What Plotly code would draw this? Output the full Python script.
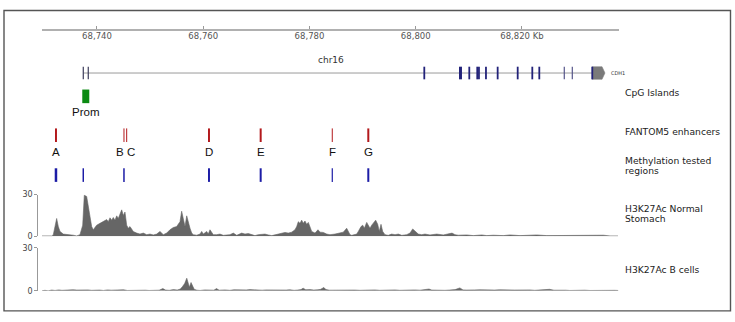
import plotly.graph_objects as go

W, H = 735, 322

# ---------------- data ----------------
ruler_range_kb = [68729.65, 68838.26]
ruler_ticks_kb = [68740, 68760, 68780, 68800, 68820]
ruler_tick_text = ["68,740", "68,760", "68,780", "68,800", "68,820 Kb"]
chrom = "chr16"

gene_name = "CDH1"
gene_start_kb = 68737.42
gene_end_kb = 68835.62
utr_start_kb = 68833.23
exons_left_kb = [68737.42, 68738.36]
exons_main_kb = [68801.61, 68808.42, 68810.08, 68811.58, 68811.90, 68813.22,
                 68815.42, 68819.19, 68821.94, 68823.26, 68833.23]
exons_light_kb = [68827.96, 68829.47]

cpg_start_kb = [68737.23]
cpg_end_kb = [68738.55]
cpg_labels = ["Prom"]

enh_names = ["A", "B", "C", "D", "E", "F", "G"]
enh_pos_kb = [68732.28, 68745.08, 68745.59, 68761.08, 68770.81, 68784.29, 68791.07]
enh_width_px = [2, 1, 1, 2, 2, 1, 2]

meth_pos_kb = [68732.28, 68737.42, 68745.08, 68761.08, 68770.81, 68784.29, 68791.07]
meth_width_px = [2.5, 1.5, 1.5, 2, 2, 1.2, 2]

stomach_kb = [68729.59, 68731.47, 68731.77, 68732.09, 68732.41, 68732.72, 68733.04, 68733.66,
              68734.30, 68734.92, 68735.54, 68736.18, 68736.80, 68737.31, 68737.61, 68738.06,
              68738.36, 68738.68, 68739.00, 68739.30, 68739.62, 68739.94, 68740.56, 68741.19,
              68741.83, 68742.13, 68742.45, 68742.77, 68743.07, 68743.39, 68743.71, 68744.01,
              68744.33, 68744.65, 68744.95, 68745.27, 68745.59, 68745.89, 68746.21, 68746.53,
              68746.83, 68747.47, 68748.09, 68748.72, 68749.36, 68749.98, 68750.60, 68751.24,
              68751.86, 68752.48, 68753.12, 68753.74, 68754.36, 68755.00, 68755.62, 68755.94,
              68756.25, 68756.57, 68756.89, 68757.19, 68757.51, 68757.83, 68758.13, 68758.77,
              68759.39, 68759.71, 68760.01, 68760.65, 68760.95, 68761.27, 68761.59, 68761.89,
              68762.53, 68763.15, 68763.78, 68764.42, 68765.04, 68765.66, 68766.30, 68767.24,
              68767.86, 68768.48, 68769.12, 68769.74, 68770.36, 68771.00, 68771.62, 68772.25,
              68772.89, 68774.13, 68774.77, 68775.39, 68776.01, 68776.65, 68777.27, 68777.59,
              68777.89, 68778.21, 68778.53, 68778.83, 68779.15, 68779.47, 68779.78, 68780.10,
              68780.42, 68781.04, 68781.60, 68781.98, 68782.60, 68783.24, 68783.86, 68784.80,
              68785.74, 68786.36, 68787.00, 68787.31, 68787.63, 68787.95, 68788.89, 68789.19,
              68789.70, 68790.02, 68790.32, 68790.77, 68791.07, 68791.39, 68791.71, 68792.01,
              68792.46, 68792.84, 68793.14, 68793.46, 68793.78, 68794.21, 68794.83, 68795.47,
              68796.10, 68796.72, 68797.36, 68798.30, 68798.92, 68799.43, 68799.86, 68800.48,
              68801.12, 68801.74, 68802.68, 68803.95, 68805.19, 68806.13, 68806.83, 68807.39,
              68808.01, 68809.59, 68810.84, 68812.42, 68813.36, 68814.60, 68816.48, 68817.74,
              68819.63, 68821.51, 68822.77, 68824.65, 68826.53, 68829.04, 68831.54, 68833.42,
              68835.31, 68836.57, 68838.07]
stomach_val = [0.3, 0.3, 1, 6, 12.8, 7, 3.5, 1.6,
               1.5, 1.2, 0.8, 0.3, 1.2, 8, 29.5, 28.6,
               22, 15, 7, 4.7, 6, 8, 9.3, 10.5,
               12, 10.5, 13.3, 11.6, 13.5, 11.6, 14.7, 12.8,
               16.3, 19, 15, 17.4, 8, 5.8, 7, 4.7,
               3.5, 2.3, 1.6, 2.3, 1.2, 1.6, 1.0, 1.6,
               3.5, 1.2, 2.3, 4.7, 6.3, 7, 10.5, 18,
               12.8, 7, 14.7, 9.3, 5.8, 2.3, 1.2, 0.8,
               1.6, 3.5, 1.6, 3.5, 1.6, 4.7, 2.3, 1.2,
               1.2, 1.6, 0.7, 1.2, 1.2, 2.3, 0.7, 2.3,
               1.6, 2.0, 1.2, 0.5, 1.2, 1.2, 1.6, 1.0,
               0.5, 1.6, 2.0, 2.8, 2.3, 3.0, 4.7, 7,
               10.5, 9.3, 11.6, 9.3, 11, 8.6, 10, 5.8,
               3.5, 2.3, 4.7, 3.0, 2.8, 1.6, 1.2, 1.6,
               2.3, 3.0, 5.8, 3.5, 1.2, 0.7, 1.6, 3.5,
               7, 8, 5.8, 10, 7.7, 5.8, 8, 9.3,
               11.6, 8.6, 3.5, 8.6, 3.5, 1.2, 0.7, 1.6,
               1.2, 1.6, 0.7, 1.2, 2.3, 5.3, 3.5, 1.6,
               1.2, 1.6, 1.0, 1.6, 1.0, 1.6, 2.3, 1.2,
               0.8, 1.0, 0.5, 1.0, 0.5, 0.8, 0.5, 1.0,
               0.5, 0.8, 1.0, 0.5, 0.5, 0.5, 1.0, 0.5,
               0.8, 0.3, 0.3]

bcell_kb = [68729.6, 68730.2, 68730.8, 68731.5, 68732.1, 68732.8, 68733.4, 68734.1, 68734.8,
            68735.5, 68736.2, 68736.9, 68737.6, 68738.3, 68739.0, 68739.8, 68740.5, 68741.2,
            68742.0, 68742.7, 68743.5, 68744.2, 68745.0, 68745.7, 68746.5, 68747.2, 68748.0,
            68749.1, 68749.8, 68751.0, 68751.7, 68752.4, 68752.9, 68753.6, 68754.4, 68755.1,
            68755.7, 68756.1, 68756.5, 68756.9, 68757.2, 68757.4, 68757.7, 68758.0, 68758.3,
            68758.8, 68759.4, 68760.3, 68761.3, 68762.0, 68762.5, 68763.0, 68764.1, 68765.0,
            68765.8, 68766.6, 68767.3, 68768.1, 68768.8, 68769.6, 68770.3, 68771.1, 68771.8,
            68772.6, 68773.3, 68774.1, 68774.8, 68775.6, 68776.3, 68777.1, 68777.8, 68778.4,
            68778.8, 68779.3, 68780.1, 68780.8, 68781.6, 68782.1, 68782.7, 68783.1, 68783.8,
            68784.8, 68785.7, 68786.6, 68787.6, 68788.5, 68789.5, 68790.4, 68791.4, 68792.3,
            68793.2, 68794.2, 68795.1, 68796.1, 68797.0, 68797.9, 68798.9, 68799.8, 68800.8,
            68801.7, 68802.5, 68803.0, 68803.8, 68804.5, 68805.5, 68806.4, 68807.4, 68808.3,
            68808.9, 68809.6, 68810.4, 68811.1, 68812.1, 68813.0, 68813.9, 68814.9, 68815.8,
            68816.8, 68817.7, 68818.6, 68819.6, 68820.5, 68821.5, 68822.4, 68823.3, 68824.3,
            68825.2, 68826.0, 68826.7, 68827.5, 68828.2, 68829.0, 68829.9, 68830.9, 68831.8,
            68832.8, 68833.7, 68834.6, 68835.6, 68836.5, 68837.5, 68838.1]
bcell_val = [0, 0.3, 0, 0.5, 0.2, 0.6, 0.3, 0.6, 0.4,
             0.7, 0.5, 0.7, 0.4, 0.6, 0.3, 0.6, 0.5, 0.2,
             0.6, 0.4, 0.6, 0.3, 0.7, 0.2, 0.3, 0.5, 0.2,
             0.4, 0.2, 0.6, 0.4, 1.5, 0.5, 0.3, 0.8, 0.5,
             1.2, 3, 5, 8.8, 4, 2.5, 5.8, 3, 1,
             0.4, 0.2, 0.6, 0.3, 0.4, 1.5, 0.4, 0.6, 0.3,
             0.7, 0.5, 0.8, 0.6, 0.8, 0.5, 0.7, 0.4, 0.6,
             0.5, 0.7, 0.4, 0.6, 0.5, 0.7, 0.3, 0.5, 0.8,
             1.8, 0.7, 0.8, 0.5, 0.7, 1, 2.3, 0.8, 0.4,
             0.5, 0.3, 0.6, 0.4, 0.5, 0.3, 0.5, 0.3, 0.6,
             0.3, 0.5, 0.4, 0.6, 0.3, 0.5, 0.3, 0.6, 0.4,
             0.6, 1.2, 0.5, 0.3, 0.6, 0.3, 0.5, 0.8, 2.0,
             0.6, 0.5, 0.8, 0.6, 0.7, 0.5, 0.6, 0.5, 0.7,
             0.4, 0.6, 0.5, 0.7, 0.4, 0.6, 0.3, 0.5, 0.4,
             1.0, 0.4, 0.5, 0.3, 0.4, 0.2, 0.4, 0.3, 0.4,
             0.2, 0.3, 0.2, 0.3, 0.2, 0.3, 0.2]

signal_range = [0, 30]
signal_ticks = [0, 30]

track_labels = [["CpG Islands"], ["FANTOM5 enhancers"], ["Methylation tested", "regions"],
                ["H3K27Ac Normal", "Stomach"], ["H3K27Ac B cells"]]

# ---------------- layout helpers ----------------
def py(pix):  # pixel from top -> paper y
    return 1 - pix / H

def px(pix):
    return pix / W

NAVY = "#23237a"
RED = "#b3191c"
BLUE = "#1c1ca6"
GREEN = "#0b8a12"
SIG = "#666666"
LABEL_FONT = dict(family="DejaVu Sans", size=9.2, color="#222222")
LETTER_FONT = dict(family="Liberation Sans, Arial", size=11.5, color="#111111")

fig = go.Figure()
shapes = []
annotations = []

# frame
shapes.append(dict(type="rect", xref="paper", yref="paper", x0=px(4), x1=px(730.5),
                   y0=py(315.7), y1=py(6.7), line=dict(color="#555555", width=1.4)))

# gene line
shapes.append(dict(type="line", xref="x", yref="y", x0=gene_start_kb, x1=utr_start_kb,
                   y0=71, y1=71, line=dict(color="#9a9a9a", width=1)))
# UTR arrow
fig.add_trace(go.Scatter(
    x=[utr_start_kb, gene_end_kb - 0.55, gene_end_kb, gene_end_kb - 0.55, utr_start_kb, utr_start_kb],
    y=[64.5, 64.5, 71, 77.5, 77.5, 64.5], mode="lines", fill="toself",
    fillcolor="#7a7a7a", line=dict(color="#7a7a7a", width=0.5),
    xaxis="x", yaxis="y", hoverinfo="skip", showlegend=False))
for e in exons_left_kb:
    shapes.append(dict(type="line", xref="x", yref="y", x0=e, x1=e, y0=64.5, y1=77.5,
                       line=dict(color="#3c3c5c", width=1.2)))
for e in exons_main_kb:
    w = 3 if e == 68808.42 else 1.8
    shapes.append(dict(type="line", xref="x", yref="y", x0=e, x1=e, y0=64.5, y1=77.5,
                       line=dict(color=NAVY, width=w)))
for e in exons_light_kb:
    shapes.append(dict(type="line", xref="x", yref="y", x0=e, x1=e, y0=64.5, y1=77.5,
                       line=dict(color="#55558a", width=1.2)))
annotations.append(dict(x=gene_end_kb, y=71, xref="x", yref="y", text=gene_name,
                        showarrow=False, xanchor="left", xshift=4,
                        font=dict(family="DejaVu Sans", size=5, color="#333333")))

# CpG islands
for s, e, lab in zip(cpg_start_kb, cpg_end_kb, cpg_labels):
    shapes.append(dict(type="rect", xref="x", yref="y", x0=s, x1=e, y0=88, y1=102,
                       fillcolor=GREEN, line=dict(width=0)))
    annotations.append(dict(x=(s + e) / 2, y=111.5, xref="x", yref="y", text=lab,
                            showarrow=False, font=LETTER_FONT))

# enhancers
for n, p, w in zip(enh_names, enh_pos_kb, enh_width_px):
    shapes.append(dict(type="line", xref="x", yref="y", x0=p, x1=p, y0=128, y1=142,
                       line=dict(color=RED, width=w)))
    xs = -4 if n == "B" else (4 if n == "C" else 0)
    annotations.append(dict(x=p, y=152, xref="x", yref="y", text=n, showarrow=False,
                            xshift=xs, font=LETTER_FONT))

# methylation regions
for p, w in zip(meth_pos_kb, meth_width_px):
    shapes.append(dict(type="line", xref="x", yref="y", x0=p, x1=p, y0=169, y1=183,
                       line=dict(color=BLUE, width=w)))

# signal tracks
fig.add_trace(go.Scatter(x=stomach_kb, y=stomach_val, mode="lines", fill="tozeroy",
                         fillcolor=SIG, line=dict(color=SIG, width=0.6),
                         xaxis="x", yaxis="y2", hoverinfo="skip", showlegend=False))
fig.add_trace(go.Scatter(x=bcell_kb, y=bcell_val, mode="lines", fill="tozeroy",
                         fillcolor=SIG, line=dict(color=SIG, width=0.6),
                         xaxis="x", yaxis="y3", hoverinfo="skip", showlegend=False))

# right-hand labels (one annotation per line)
label_rows = [[91], [131.5], [161.5, 171], [210.5, 220.5], [273]]
for lines, ys in zip(track_labels, label_rows):
    for t, yy in zip(lines, ys):
        annotations.append(dict(x=px(623), y=py(yy), xref="paper", yref="paper", text=t,
                                showarrow=False, xanchor="left", yanchor="middle",
                                font=LABEL_FONT))

# chromosome label
annotations.append(dict(x=px(330.5), y=py(50), xref="paper", yref="paper", text=chrom,
                        showarrow=False, font=dict(family="DejaVu Sans", size=9, color="#333333")))

xdom = [px(42), px(619)]
sig_axis = dict(range=signal_range, tickvals=signal_ticks, showgrid=False, zeroline=False,
                showline=True, linecolor="#999999", linewidth=1, ticks="outside", ticklen=3,
                tickcolor="#999999", tickfont=dict(family="DejaVu Sans", size=8, color="#444444"),
                anchor="free", position=px(37.3), fixedrange=True)

fig.update_layout(
    width=W, height=H, margin=dict(l=0, r=0, t=0, b=0),
    paper_bgcolor="white", plot_bgcolor="rgba(0,0,0,0)", showlegend=False,
    xaxis=dict(domain=xdom, range=ruler_range_kb, anchor="free", position=py(27),
               side="bottom", showline=True, linecolor="#b0b0b0", linewidth=2,
               ticks="inside", ticklen=3, tickcolor="#999999", tickvals=ruler_ticks_kb,
               ticktext=ruler_tick_text, showgrid=False, zeroline=False,
               ticklabelstandoff=-2,
               tickfont=dict(family="DejaVu Sans", size=8.5, color="#555555")),
    yaxis=dict(domain=[0, 1], range=[H, 0], visible=False, anchor="x"),
    yaxis2=dict(domain=[py(239), py(196)], **sig_axis),
    yaxis3=dict(domain=[py(295), py(251)], **sig_axis),
    shapes=shapes, annotations=annotations,
)

fig.write_html("out.html",
               config={"displayModeBar": False},
               post_script="document.body.style.margin='0px';"
                           "document.body.style.overflow='hidden';")
